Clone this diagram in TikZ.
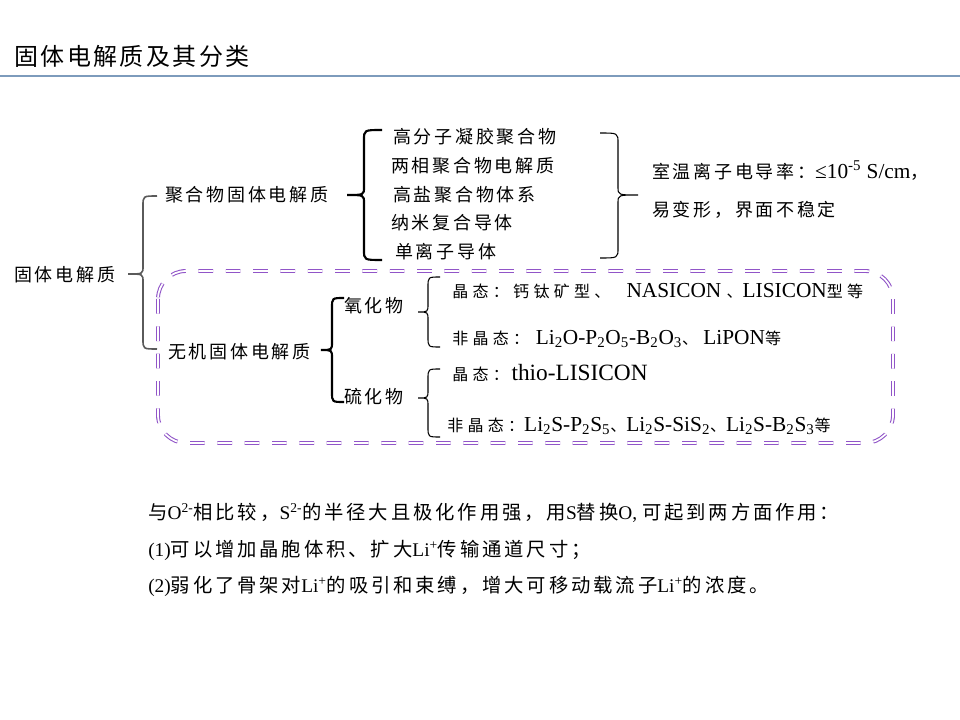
\documentclass[tikz,border=0pt]{standalone}
\usepackage{fontspec}
\setmainfont{Liberation Serif}
\newfontfamily\cjk[LetterSpace=15]{Noto Sans CJK SC}
\newfontfamily\cjks[LetterSpace=27]{Noto Sans CJK SC}
\newfontfamily\cjkt[LetterSpace=10]{Noto Sans CJK SC}
\newcommand\zh[1]{{\cjk #1}}
\newcommand\zhs[1]{{\fontsize{12pt}{14pt}\selectfont\cjks #1}}
\newcommand\sub[1]{\textsubscript{#1}}
\newcommand\sups[1]{\textsuperscript{#1}}
\definecolor{titleline}{RGB}{125,155,188}
\definecolor{purp}{RGB}{145,85,200}
\definecolor{brgray}{RGB}{90,90,90}
% style, xv, ytop, ybot, ymid, xtip, xend
\newcommand\BR[7]{\draw[#1] (#7,#3) .. controls (#2,#3) .. (#2,#3+10) -- (#2,#5-8) .. controls (#2,#5) .. (#6,#5) .. controls (#2,#5) .. (#2,#5+8) -- (#2,#4-10) .. controls (#2,#4) .. (#7,#4);}
\begin{document}
\begin{tikzpicture}[x=0.75pt,y=-0.75pt,
  tree/.style={inner sep=0pt, anchor=west, text height=12pt, text depth=1.6pt, font=\fontsize{13.5pt}{16pt}\selectfont},
  bot/.style={inner sep=0pt, anchor=west, text height=12.8pt, text depth=1.8pt, font=\fontsize{14.5pt}{17pt}\selectfont},
  leaf/.style={inner sep=0pt, anchor=west, text height=10.8pt, text depth=1pt, font=\fontsize{16pt}{18pt}\selectfont},
  ttl/.style={inner sep=0pt, anchor=west, font=\fontsize{18pt}{20pt}\selectfont\cjkt},
  graybr/.style={draw=brgray, line width=1.2pt},
  thickbr/.style={draw=black, line width=1.6pt},
  thinbr/.style={draw=black, line width=0.8pt},
  purpbox/.style={draw=purp, line width=0.8pt, double=white, double distance=1.3pt, dash pattern=on 11pt off 9.5pt, rounded corners=21pt}
]
\fill[white] (0,0) rectangle (960,720);
\useasboundingbox (0,0) rectangle (960,720);
% title
\node[ttl] (title) at (14,56) {固体电解质及其分类};
\coordinate (tl0) at (0,76);
\coordinate (tl1) at (960,76);
\draw[titleline, line width=1.3pt] (tl0) -- (tl1);
% tree
\node[tree] (root) at (14,275) {\zh{固体电解质}};
\node[tree] (poly) at (165,195) {\zh{聚合物固体电解质}};
\node[tree] (inorg) at (168,352) {\zh{无机固体电解质}};
\node[tree] (p1) at (393,137) {\zh{高分子凝胶聚合物}};
\node[tree] (p2) at (391,166) {\zh{两相聚合物电解质}};
\node[tree] (p3) at (393,195) {\zh{高盐聚合物体系}};
\node[tree] (p4) at (391,223) {\zh{纳米复合导体}};
\node[tree] (p5) at (395,252) {\zh{单离子导体}};
\node[tree] (d1) at (652,172) {\zh{室温离子电导率：}{\fontsize{16pt}{18pt}\selectfont ≤10\sups{-5} S/cm}\zh{，}};
\node[tree] (d2) at (652,210) {\zh{易变形，界面不稳定}};
\node[tree] (ox) at (344,306) {\zh{氧化物}};
\node[tree] (su) at (344,397) {\zh{硫化物}};
\node[leaf] (o1) at (452,291) {\zhs{晶态：钙钛矿型、}\hspace{12pt}NASICON \zhs{、}LISICON\zhs{型等}};
\node[leaf] (o2) at (452,338) {\zhs{非晶态：}\hspace{5pt}Li\sub{2}O-P\sub{2}O\sub{5}-B\sub{2}O\sub{3}\zhs{、}\hspace{4pt}LiPON\zhs{等}};
\node[leaf] (s1) at (452,374) {\zhs{晶态：}\hspace{2pt}{\fontsize{17.5pt}{20pt}\selectfont thio-LISICON}};
\node[leaf] (s2) at (447,425) {\zhs{非晶态：}Li\sub{2}S-P\sub{2}S\sub{5}\zhs{、}Li\sub{2}S-SiS\sub{2}\zhs{、}Li\sub{2}S-B\sub{2}S\sub{3}\zhs{等}};
% braces
\BR{graybr}{143}{196}{349}{274}{128}{157}
\BR{thickbr}{364}{130}{260}{195}{347}{382}
\BR{thinbr}{618}{133}{258}{195}{638}{600}
\BR{thickbr}{332}{298}{402}{350}{321}{344}
\BR{thinbr}{428}{277}{347}{312}{418}{440}
\BR{thinbr}{428}{369}{437}{398}{418}{440}
% dashed box
\coordinate (bx0) at (158,271);
\coordinate (bx1) at (893,443);
\draw[purpbox] (bx0) rectangle (bx1);
% bottom text
\node[bot] (b1) at (148,512) {\zh{与}O\sups{2-}\zh{相比较，}S\sups{2-}\zh{的半径大且极化作用强，用}S\zh{替换}O, \zh{可起到两方面作用：}};
\node[bot] (b2) at (148,549) {(1)\zh{可以增加晶胞体积、扩大}Li\sups{+}\zh{传输通道尺寸；}};
\node[bot] (b3) at (148,585) {(2)\zh{弱化了骨架对}Li\sups{+}\zh{的吸引和束缚，增大可移动载流子}Li\sups{+}\zh{的浓度。}};
\end{tikzpicture}
\end{document}
